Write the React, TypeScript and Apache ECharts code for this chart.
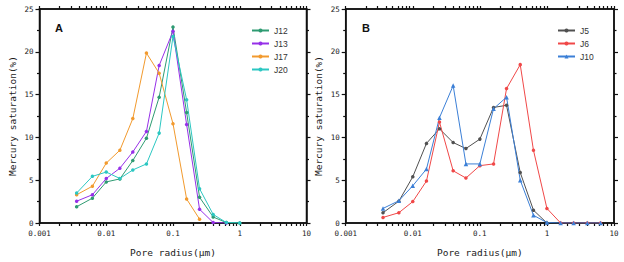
import React, { useEffect, useRef } from "react";
import * as echarts from "echarts";

const radii = [0.0036, 0.0062, 0.01, 0.016, 0.025, 0.04, 0.062, 0.1, 0.16, 0.25, 0.4, 0.63, 1.0, 1.6, 2.5, 4.0, 6.3];

const J12 = [1.9, 2.9, 4.8, 5.15, 7.3, 9.9, 14.7, 22.9, 12.9, 3.0, 0.7, 0.05, 0];
const J13 = [2.55, 3.3, 5.2, 6.4, 8.3, 10.7, 18.4, 22.4, 11.5, 1.6, 0.05, 0];
const J17 = [3.3, 4.3, 7.0, 8.5, 12.2, 19.85, 17.5, 11.6, 2.8, 0.45];
const J20 = [3.5, 5.45, 5.95, 5.2, 6.2, 6.9, 10.5, 21.8, 14.4, 4.0, 1.0, 0.05, 0];

const J5 = [1.2, 2.55, 5.4, 9.3, 11.0, 9.4, 8.7, 9.8, 13.5, 13.75, 5.9, 1.5, 0];
const J6 = [0.65, 1.2, 2.5, 4.9, 11.8, 6.1, 5.25, 6.7, 6.9, 15.7, 18.5, 8.5, 1.7, 0, 0, 0, 0];
const J10 = [1.7, 2.6, 4.35, 6.3, 12.3, 16.05, 6.9, 6.9, 13.35, 14.7, 5.0, 0.9, 0.05, 0, 0, 0, 0];

const xLabelValues = [0.001, 0.01, 0.1, 1, 10];
const xTickValues: number[] = [];
for (let e = -3; e <= 0; e++) {
  for (let m = 1; m <= 9; m++) xTickValues.push(+(m * Math.pow(10, e)).toPrecision(2));
}
xTickValues.push(10);

const X_MIN = 0.001;
const X_MAX = 10;
const Y_MIN = 0;
const Y_MAX = 25;

const seriesA = [
  { name: "J12", data: J12, color: "#2e9b72", symbol: "circle" },
  { name: "J13", data: J13, color: "#9630e8", symbol: "circle" },
  { name: "J17", data: J17, color: "#f29a2e", symbol: "circle" },
  { name: "J20", data: J20, color: "#2cc7c2", symbol: "circle" },
];
const seriesB = [
  { name: "J5", data: J5, color: "#505050", symbol: "circle" },
  { name: "J6", data: J6, color: "#f04848", symbol: "circle" },
  { name: "J10", data: J10, color: "#3b7fd6", symbol: "triangle" },
];

const MONO = "DejaVu Sans Mono";
const INK = "#1a1a1a";
const FRAME = "#111111";

function pairs(vals: number[]) {
  return vals.map((v, i) => [radii[i], v]);
}

export default function App() {
  const ref = useRef<HTMLDivElement>(null);
  useEffect(() => {
    if (!ref.current) return;
    const chart = echarts.init(ref.current, undefined, { renderer: "svg" });

    const grids = [
      { left: 39.5, top: 9, width: 267, height: 215, show: true, borderColor: FRAME, borderWidth: 1.5 },
      { left: 345.7, top: 9, width: 268.3, height: 215, show: true, borderColor: FRAME, borderWidth: 1.5 },
    ];

    const axLine = () => ({ show: true, onZero: false, lineStyle: { color: FRAME, width: 1.5 } });
    const xTick = () => ({ show: true, inside: false, length: 3, customValues: xTickValues, lineStyle: { color: FRAME, width: 1.2 } });
    const yTick = () => ({ show: true, inside: false, length: 4, lineStyle: { color: FRAME, width: 1.2 } });
    const yMinor = () => ({ show: true, splitNumber: 2, length: 2.5, lineStyle: { color: FRAME, width: 1.2 } });

    const xAxes: any[] = [];
    const yAxes: any[] = [];
    [0, 1].forEach((g) => {
      xAxes.push({
        type: "log",
        gridIndex: g,
        min: X_MIN,
        max: X_MAX,
        position: "bottom",
        name: "Pore radius(μm)",
        nameLocation: "middle",
        nameGap: 24,
        nameTextStyle: { fontFamily: MONO, fontSize: 9.5, color: INK },
        axisLine: axLine(),
        axisTick: xTick(),
        splitLine: { show: false },
        axisLabel: {
          fontFamily: MONO,
          fontSize: 7.5,
          color: INK,
          margin: 6,
          customValues: xLabelValues,
          formatter: (v: number) => String(+Number(v).toPrecision(1)),
        },
      });
      xAxes.push({
        type: "log",
        gridIndex: g,
        min: X_MIN,
        max: X_MAX,
        position: "top",
        axisLine: axLine(),
        axisTick: xTick(),
        axisLabel: { show: false },
        splitLine: { show: false },
      });
      yAxes.push({
        type: "value",
        gridIndex: g,
        min: Y_MIN,
        max: Y_MAX,
        interval: 5,
        position: "left",
        name: "Mercury saturation(%)",
        nameLocation: "middle",
        nameGap: 22,
        nameTextStyle: { fontFamily: MONO, fontSize: 9.5, color: INK },
        axisLine: axLine(),
        axisTick: yTick(),
        minorTick: yMinor(),
        splitLine: { show: false },
        minorSplitLine: { show: false },
        axisLabel: { fontFamily: MONO, fontSize: 7.5, color: INK, margin: 6 },
      });
      yAxes.push({
        type: "value",
        gridIndex: g,
        min: Y_MIN,
        max: Y_MAX,
        interval: 5,
        position: "right",
        axisLine: axLine(),
        axisTick: yTick(),
        minorTick: yMinor(),
        splitLine: { show: false },
        minorSplitLine: { show: false },
        axisLabel: { show: false },
      });
    });

    const lineSeries = (defs: any[], g: number) =>
      defs.map((d) => ({
        type: "line",
        name: d.name,
        xAxisIndex: g * 2,
        yAxisIndex: g * 2,
        data: pairs(d.data),
        symbol: d.symbol,
        symbolSize: d.symbol === "triangle" ? 4.5 : 3.5,
        showSymbol: true,
        lineStyle: { color: d.color, width: 1 },
        itemStyle: { color: d.color },
        color: d.color,
      }));

    const legendBase = {
      orient: "vertical",
      itemWidth: 17,
      itemHeight: 5,
      itemGap: 4,
      textStyle: { fontSize: 8.5, color: "#333333", fontFamily: "Liberation Sans" },
    };

    chart.setOption({
      animation: false,
      grid: grids,
      xAxis: xAxes,
      yAxis: yAxes,
      legend: [
        { ...legendBase, left: 246, top: 21, data: seriesA.map((s) => s.name) },
        { ...legendBase, left: 552, top: 21, data: seriesB.map((s) => s.name) },
      ],
      graphic: [
        { type: "text", left: 55, top: 22, style: { text: "A", fontSize: 11, fontWeight: "bold", fill: "#111111", fontFamily: "Liberation Sans" } },
        { type: "text", left: 362, top: 22, style: { text: "B", fontSize: 11, fontWeight: "bold", fill: "#111111", fontFamily: "Liberation Sans" } },
      ],
      series: [...lineSeries(seriesA, 0), ...lineSeries(seriesB, 1)],
    });
    return () => chart.dispose();
  }, []);
  return <div ref={ref} style={{ position: "absolute", left: 0, top: 0, width: 624, height: 262, background: "#fff" }} />;
}
